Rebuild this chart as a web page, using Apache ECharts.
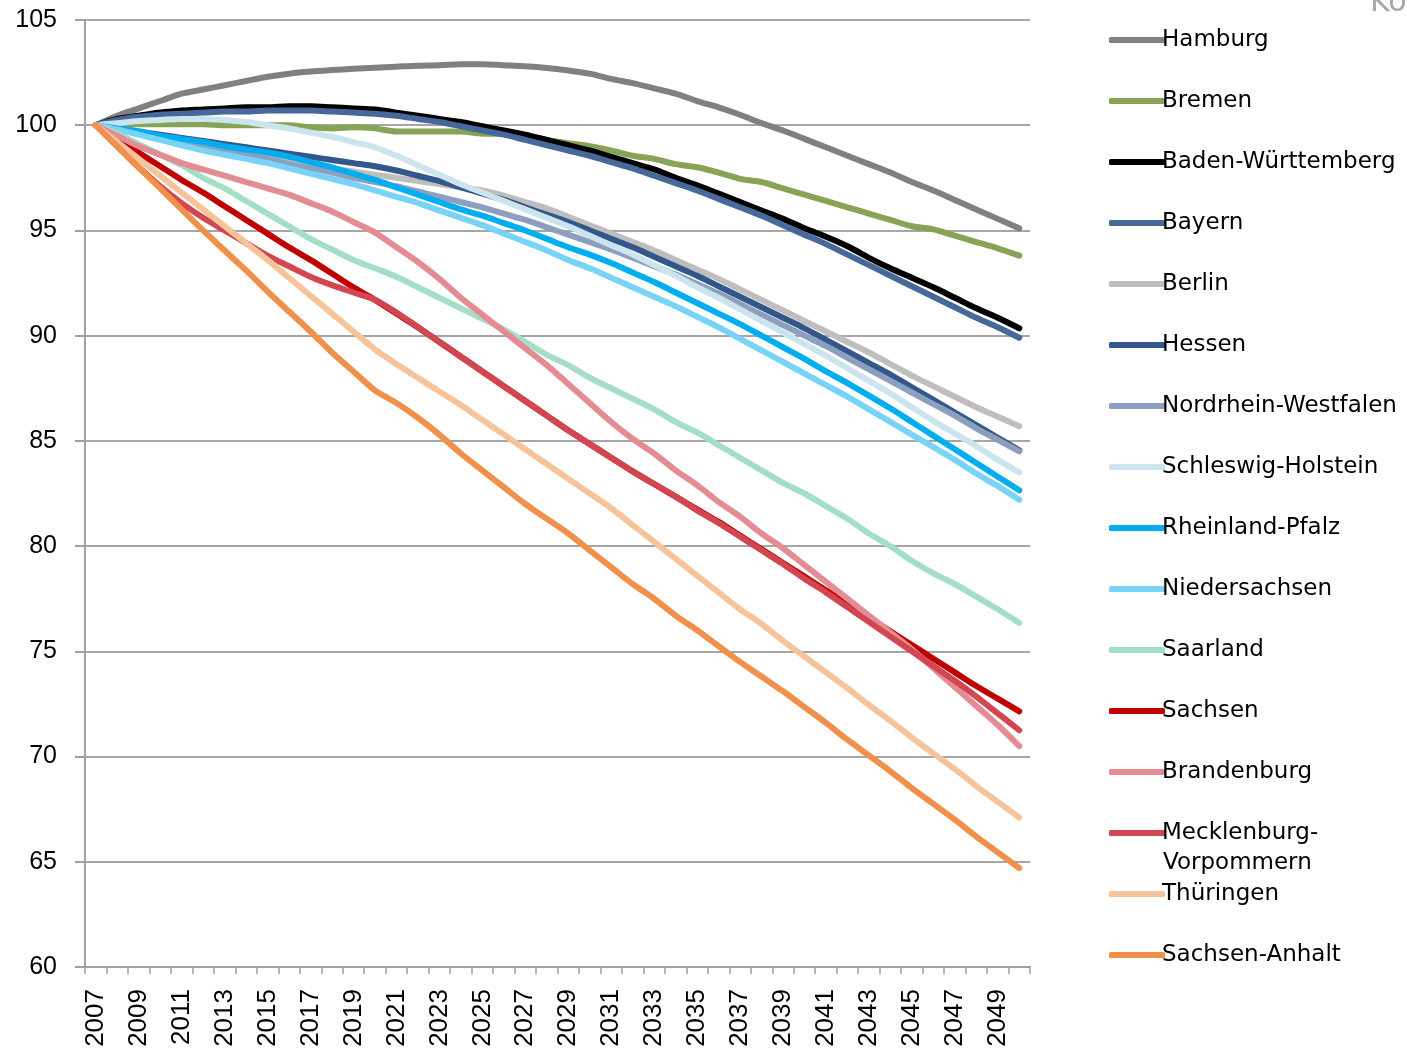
<!DOCTYPE html>
<html>
<head>
<meta charset="utf-8">
<script src="https://cdn.jsdelivr.net/npm/echarts@6/dist/echarts.min.js"></script>
<style>
html,body{margin:0;padding:0;background:#fff;}
#chart{width:1407px;height:1051px;}
</style>
</head>
<body>
<div id="chart"></div>
<script>
var years = [];
for (var y = 2007; y <= 2050; y++) years.push(String(y));

var hamburg = [100,100.45,100.8,101.15,101.5,101.7,101.9,102.1,102.3,102.45,102.55,102.62,102.68,102.73,102.78,102.83,102.85,102.9,102.9,102.85,102.8,102.72,102.6,102.45,102.2,102.0,101.75,101.5,101.15,100.85,100.5,100.1,99.75,99.35,98.95,98.55,98.15,97.75,97.3,96.9,96.45,96.0,95.55,95.1];
var bremen = [100,100.05,100.05,100.05,100.05,100.05,100.0,100.0,100.0,100.0,99.9,99.85,99.9,99.85,99.7,99.7,99.7,99.7,99.6,99.6,99.5,99.3,99.15,99.0,98.8,98.55,98.4,98.15,98.0,97.75,97.45,97.3,97.0,96.7,96.4,96.1,95.8,95.5,95.2,95.05,94.75,94.45,94.15,93.8];
var badenWue = [100,100.3,100.45,100.6,100.7,100.75,100.8,100.85,100.85,100.9,100.9,100.85,100.8,100.75,100.6,100.45,100.3,100.15,99.95,99.75,99.55,99.3,99.05,98.8,98.5,98.2,97.9,97.5,97.15,96.75,96.35,95.95,95.55,95.1,94.7,94.25,93.7,93.2,92.75,92.3,91.8,91.3,90.85,90.35];
var bayern = [100,100.25,100.4,100.5,100.55,100.6,100.65,100.65,100.7,100.7,100.7,100.65,100.6,100.55,100.45,100.3,100.15,99.95,99.75,99.55,99.3,99.05,98.8,98.55,98.25,97.95,97.6,97.25,96.9,96.5,96.1,95.7,95.25,94.8,94.35,93.85,93.35,92.85,92.35,91.85,91.35,90.85,90.4,89.9];
var berlin = [100,99.8,99.6,99.4,99.25,99.05,98.85,98.7,98.5,98.3,98.1,97.95,97.8,97.65,97.5,97.35,97.2,97.05,96.9,96.65,96.35,96.05,95.65,95.25,94.85,94.45,94.05,93.6,93.15,92.7,92.2,91.7,91.2,90.7,90.2,89.7,89.2,88.65,88.1,87.6,87.1,86.6,86.15,85.7];
var hessen = [100,99.85,99.7,99.55,99.4,99.25,99.1,98.95,98.8,98.65,98.5,98.35,98.2,98.05,97.85,97.6,97.35,97.05,96.75,96.45,96.1,95.75,95.4,95.0,94.6,94.2,93.75,93.3,92.85,92.35,91.85,91.35,90.85,90.35,89.8,89.25,88.7,88.15,87.55,86.95,86.35,85.75,85.15,84.55];
var nrw = [100,99.8,99.6,99.4,99.2,99.0,98.8,98.6,98.4,98.15,97.95,97.75,97.5,97.3,97.1,96.85,96.6,96.35,96.1,95.8,95.5,95.15,94.8,94.45,94.1,93.7,93.3,92.9,92.45,92.0,91.5,91.0,90.5,90.0,89.5,88.95,88.4,87.85,87.3,86.75,86.2,85.6,85.05,84.5];
var schleswig = [100,100.1,100.2,100.25,100.3,100.3,100.25,100.15,100.0,99.85,99.65,99.45,99.2,98.95,98.55,98.1,97.65,97.2,96.8,96.4,96.0,95.6,95.2,94.75,94.3,93.85,93.35,92.85,92.3,91.8,91.25,90.7,90.15,89.6,89.05,88.45,87.85,87.25,86.6,85.95,85.35,84.75,84.1,83.5];
var rheinland = [100,99.85,99.7,99.5,99.35,99.2,99.0,98.85,98.7,98.5,98.25,98.0,97.7,97.4,97.05,96.7,96.35,96.0,95.7,95.35,95.0,94.6,94.2,93.85,93.45,93.0,92.55,92.05,91.55,91.05,90.55,90.0,89.45,88.9,88.3,87.75,87.15,86.55,85.9,85.25,84.6,83.95,83.3,82.65];
var niedersachsen = [100,99.8,99.55,99.3,99.05,98.8,98.6,98.4,98.2,97.95,97.7,97.45,97.2,96.9,96.6,96.3,95.95,95.6,95.25,94.85,94.45,94.05,93.6,93.2,92.75,92.3,91.85,91.4,90.9,90.4,89.85,89.3,88.75,88.2,87.65,87.1,86.5,85.9,85.3,84.7,84.1,83.45,82.85,82.2];
var saarland = [100,99.6,99.1,98.6,98.1,97.5,97.0,96.4,95.8,95.2,94.6,94.1,93.6,93.2,92.8,92.3,91.8,91.3,90.8,90.3,89.7,89.1,88.6,88.0,87.5,87.0,86.5,85.9,85.4,84.8,84.2,83.6,83.0,82.5,81.9,81.3,80.6,80.0,79.3,78.7,78.2,77.6,77.0,76.35];
var sachsen = [100,99.35,98.7,98.05,97.4,96.8,96.15,95.5,94.85,94.2,93.6,92.95,92.3,91.7,91.05,90.4,89.7,89.0,88.3,87.6,86.9,86.2,85.5,84.85,84.2,83.55,82.95,82.35,81.75,81.15,80.5,79.85,79.2,78.55,77.9,77.25,76.6,75.95,75.3,74.65,74.0,73.35,72.75,72.15];
var brandenburg = [100,99.5,99.0,98.6,98.2,97.9,97.6,97.3,97.0,96.7,96.3,95.9,95.4,94.9,94.2,93.5,92.7,91.8,91.0,90.2,89.4,88.6,87.7,86.8,85.9,85.1,84.4,83.6,82.9,82.1,81.4,80.6,79.9,79.1,78.3,77.5,76.7,75.9,75.1,74.2,73.3,72.4,71.5,70.5];
var mecklenburg = [100,99.0,98.0,97.1,96.3,95.6,95.0,94.4,93.8,93.3,92.8,92.4,92.05,91.7,91.1,90.4,89.7,89.0,88.3,87.6,86.9,86.2,85.5,84.85,84.2,83.55,82.95,82.35,81.7,81.1,80.45,79.8,79.15,78.45,77.8,77.1,76.4,75.7,75.0,74.3,73.6,72.85,72.05,71.25];
var thueringen = [100,99.2,98.4,97.6,96.8,96.0,95.2,94.4,93.6,92.75,91.9,91.05,90.2,89.35,88.65,88.0,87.35,86.7,86.0,85.3,84.6,83.9,83.2,82.5,81.8,81.0,80.2,79.4,78.6,77.8,77.0,76.3,75.5,74.75,74.0,73.25,72.45,71.7,70.9,70.15,69.4,68.6,67.85,67.1];
var sachsenAnhalt = [100,99.0,98.0,97.0,96.0,95.0,94.05,93.1,92.1,91.15,90.2,89.2,88.3,87.4,86.8,86.1,85.3,84.4,83.6,82.8,82.0,81.3,80.6,79.8,79.0,78.2,77.5,76.7,76.0,75.25,74.5,73.8,73.1,72.35,71.6,70.8,70.05,69.3,68.5,67.75,67.0,66.2,65.45,64.7];

var seriesDefs = [
  {name:'Hamburg', data:hamburg, color:'#808080'},
  {name:'Bremen', data:bremen, color:'#86A356'},
  {name:'Baden-Württemberg', data:badenWue, color:'#000000'},
  {name:'Bayern', data:bayern, color:'#46699A'},
  {name:'Berlin', data:berlin, color:'#BEBEBE'},
  {name:'Hessen', data:hessen, color:'#33578A'},
  {name:'Nordrhein-Westfalen', data:nrw, color:'#8C9FBE'},
  {name:'Schleswig-Holstein', data:schleswig, color:'#CBE4EE'},
  {name:'Rheinland-Pfalz', data:rheinland, color:'#00AEEF'},
  {name:'Niedersachsen', data:niedersachsen, color:'#79D3F6'},
  {name:'Saarland', data:saarland, color:'#A3DEC6'},
  {name:'Sachsen', data:sachsen, color:'#C00000'},
  {name:'Brandenburg', data:brandenburg, color:'#E38C94'},
  {name:'Mecklenburg-Vorpommern', data:mecklenburg, color:'#D24652'},
  {name:'Thüringen', data:thueringen, color:'#F7C39A'},
  {name:'Sachsen-Anhalt', data:sachsenAnhalt, color:'#F0904A'}
];

var chart = echarts.init(document.getElementById('chart'), null, {renderer:'canvas'});
var FONT = 'DejaVu Sans';
var AXFONT = 'Liberation Sans';

var option = {
  backgroundColor:'#ffffff',
  animation:false,
  grid:{left:85, top:20, right:377, bottom:84, containLabel:false},
  legend:{
    orient:'vertical',
    left:1104,
    top:21,
    icon:'roundRect',
    itemWidth:56,
    itemHeight:6,
    itemGap:33,
    textStyle:{fontFamily:FONT, fontSize:23, color:'#000', lineHeight:28, padding:[0,0,0,-8]},
    formatter:function(n){ return n === 'Mecklenburg-Vorpommern' ? 'Mecklenburg-' : n; },
    data:seriesDefs.map(function(s){return s.name;})
  },
  graphic:[
    {type:'text', left:1163, top:852, style:{text:'Vorpommern', font:'23px "DejaVu Sans"', fill:'#000'}},
    {type:'text', left:1370, top:-12, style:{text:'Ko', font:'30px "DejaVu Sans"', fill:'#A6A6A6'}}
  ],
  xAxis:{
    type:'category',
    data:years,
    boundaryGap:true,
    axisLine:{lineStyle:{color:'#A0A0A0', width:2}},
    axisTick:{show:true, length:7, interval:0, lineStyle:{color:'#A0A0A0', width:1.5}},
    axisLabel:{interval:1, rotate:90, fontFamily:AXFONT, fontSize:26, color:'#000', margin:22},
    splitLine:{show:false}
  },
  yAxis:{
    type:'value',
    min:60, max:105, interval:5,
    axisLine:{show:true, lineStyle:{color:'#A0A0A0', width:2}},
    axisTick:{show:true, length:10, lineStyle:{color:'#A0A0A0', width:2}},
    axisLabel:{fontFamily:AXFONT, fontSize:25, color:'#000', margin:28},
    splitLine:{show:true, lineStyle:{color:'#A6A6A6', width:2}}
  },
  series:seriesDefs.map(function(s){
    return {
      name:s.name, type:'line', data:s.data,
      showSymbol:false, symbol:'none', smooth:0.3,
      color:s.color,
      itemStyle:{color:s.color},
      lineStyle:{color:s.color, width:6, cap:'round', join:'round'},
      emphasis:{disabled:true}
    };
  })
};
chart.setOption(option);
</script>
</body>
</html>
